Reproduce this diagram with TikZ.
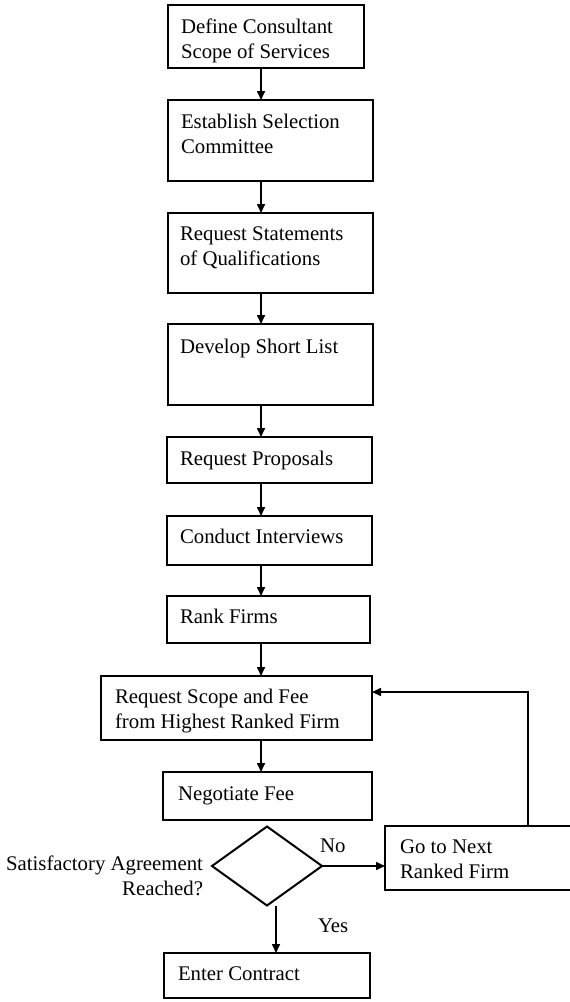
\documentclass[tikz,border=0pt]{standalone}
\usepackage{fontspec}
\setmainfont{Liberation Serif}
\usetikzlibrary{arrows.meta,shapes.geometric}
\newcommand\mlines[1]{\begin{tabular}[t]{@{}l@{}}#1\end{tabular}}
\newcommand\mrlines[1]{\begin{tabular}[t]{@{}r@{}}#1\end{tabular}}
\begin{document}
\begin{tikzpicture}[x=1pt,y=-1pt,
  boxn/.style={draw=black,line width=2.2pt,rectangle,inner sep=0pt,outer sep=0pt,anchor=north west},
  txt/.style={inner sep=0pt,outer sep=0pt,anchor=base west,font=\fontsize{20.8}{25}\selectfont},
  txtr/.style={txt,anchor=base east},
  arr/.style={draw=black,line width=1.6pt,-{Triangle[length=9pt,width=8pt]}},
  dec/.style={draw=black,line width=2pt,diamond,shape aspect=1.4,inner sep=0pt,outer sep=0pt,minimum width=110pt,minimum height=79pt}]
\useasboundingbox (0,0) rectangle (570,1002);
% boxes
\node[boxn,minimum width=196pt,minimum height=63pt] (b1) at (168,5) {};
\node[boxn,minimum width=205pt,minimum height=81pt] (b2) at (168,100) {};
\node[boxn,minimum width=205pt,minimum height=80pt] (b3) at (168,213) {};
\node[boxn,minimum width=205pt,minimum height=81pt] (b4) at (168,324) {};
\node[boxn,minimum width=205pt,minimum height=46pt] (b5) at (167,437) {};
\node[boxn,minimum width=205pt,minimum height=49pt] (b6) at (167,516) {};
\node[boxn,minimum width=203pt,minimum height=47pt] (b7) at (167,596) {};
\node[boxn,minimum width=271pt,minimum height=64pt] (b8) at (101,676) {};
\node[boxn,minimum width=209pt,minimum height=48pt] (b9) at (163,772) {};
\node[dec] (dia) at (267,866) {};
\node[boxn,minimum width=188pt,minimum height=64pt] (b10) at (385,826) {};
\node[boxn,minimum width=206pt,minimum height=45pt] (b11) at (164,953) {};
% texts
\node[txt] (t1) at (181,33) {\mlines{Define Consultant\\Scope of Services}};
\node[txt] (t2) at (181,128) {\mlines{Establish Selection\\Committee}};
\node[txt] (t3) at (180,240) {\mlines{Request Statements\\of Qualifications}};
\node[txt] (t4) at (180,353) {Develop Short List};
\node[txt] (t5) at (180,465) {Request Proposals};
\node[txt] (t6) at (180,543) {Conduct Interviews};
\node[txt] (t7) at (180,623) {Rank Firms};
\node[txt] (t8) at (115,703) {\mlines{Request Scope and Fee\\from Highest Ranked Firm}};
\node[txt] (t9) at (178,800) {Negotiate Fee};
\node[txtr] (td) at (203,870) {\mrlines{Satisfactory Agreement\\Reached?}};
\node[txt] (t10) at (400,853) {\mlines{Go to Next\\Ranked Firm}};
\node[txt] (t11) at (178,980) {Enter Contract};
\node[txt] (no) at (320,852) {No};
\node[txt] (yes) at (318,932) {Yes};
% connectors
\coordinate (col) at (261,0);
\draw[arr] (b1.south -| col) -- (b2.north -| col);
\draw[arr] (b2.south -| col) -- (b3.north -| col);
\draw[arr] (b3.south -| col) -- (b4.north -| col);
\draw[arr] (b4.south -| col) -- (b5.north -| col);
\draw[arr] (b5.south -| col) -- (b6.north -| col);
\draw[arr] (b6.south -| col) -- (b7.north -| col);
\draw[arr] (b7.south -| col) -- (b8.north -| col);
\draw[arr] (b8.south -| col) -- (b9.north -| col);
\draw[arr] (dia.east) -- (dia.east -| b10.west);
\coordinate (ycol) at (276,0);
\draw[arr] (dia.south -| ycol) -- (b11.north -| ycol);
\coordinate (lp) at (528,692);
\draw[arr] (b10.north -| lp) -- (lp) -- (lp -| b8.east);
\end{tikzpicture}
\end{document}
